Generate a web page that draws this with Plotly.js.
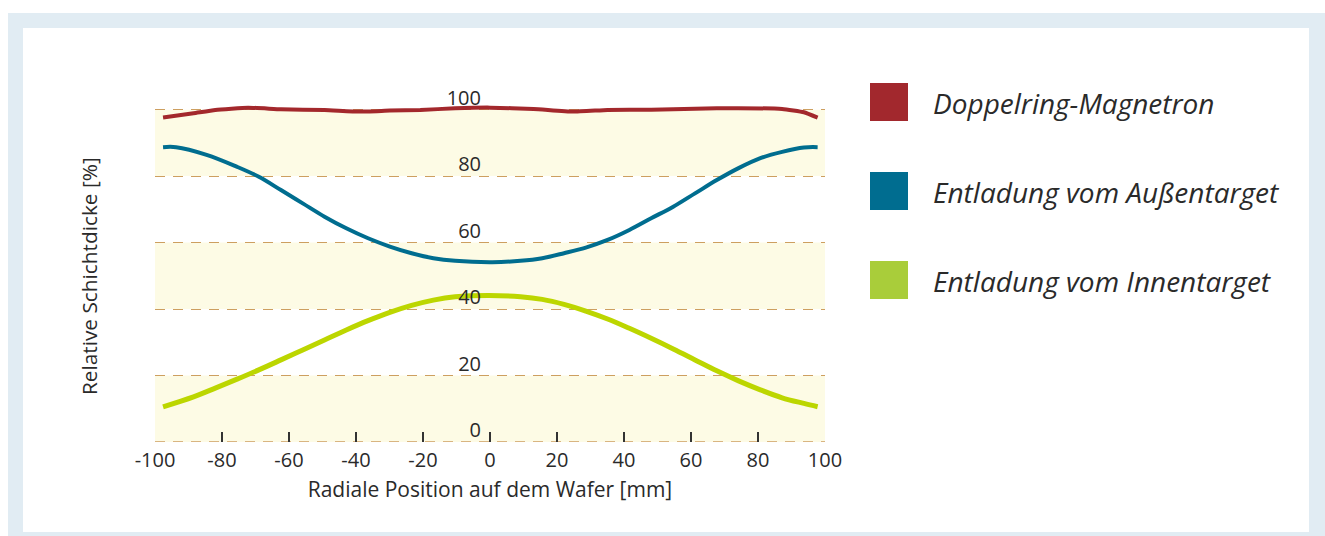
<!DOCTYPE html>
<html><head><meta charset="utf-8">
<script src="https://cdn.plot.ly/plotly-3.0.1.min.js"></script>
<style>html,body{margin:0;padding:0;background:#fff}#chart{width:1325px;height:536px}</style>
</head><body><div id="chart"></div>
<script>
// ---- data ----
const seriesNames = ['Doppelring-Magnetron', 'Entladung vom Außentarget', 'Entladung vom Innentarget'];

const redX = [-97.6, -88.5, -82.0, -72.2, -62.4, -49.4, -39.0, -29.9, -20.8, -10.4, 0.0, 13.0, 24.7, 35.1, 48.1, 67.7, 87.2, 93.7, 97.8];
const redY = [97.6, 98.9, 99.9, 100.6, 100.1, 99.9, 99.4, 99.7, 99.9, 100.4, 100.6, 100.2, 99.4, 99.9, 100.0, 100.4, 100.2, 99.2, 97.6];

const blueX = [-97.6, -93.7, -84.6, -75.5, -69.0, -62.4, -55.9, -49.4, -42.9, -36.4, -29.9, -23.4, -16.9, -10.4, 0.7, 9.1, 15.6, 22.1, 28.6, 35.1, 41.6, 48.1, 54.7, 61.2, 67.7, 74.2, 80.7, 87.2, 93.7, 97.8];
const blueY = [88.7, 88.7, 86.4, 82.8, 79.8, 75.8, 71.8, 67.8, 64.3, 61.3, 58.8, 56.8, 55.3, 54.5, 54.1, 54.5, 55.3, 56.8, 58.5, 60.8, 63.8, 67.3, 70.8, 74.8, 78.8, 82.4, 85.4, 87.3, 88.6, 88.7];

const greenX = [-97.6, -88.5, -82.0, -75.5, -69.0, -62.4, -55.9, -49.4, -42.9, -36.4, -29.9, -23.4, -16.9, -10.4, -0.3, 9.1, 15.6, 22.1, 28.6, 35.1, 41.6, 48.1, 54.7, 61.2, 67.7, 74.2, 80.7, 87.2, 93.7, 97.8];
const greenY = [10.6, 13.6, 16.2, 18.9, 21.7, 24.7, 27.7, 30.7, 33.7, 36.5, 39.0, 41.1, 42.7, 43.7, 44.1, 43.7, 42.9, 41.4, 39.4, 37.0, 34.2, 31.2, 28.0, 24.7, 21.4, 18.4, 15.7, 13.3, 11.6, 10.6];

const xTickVals = [-100, -80, -60, -40, -20, 0, 20, 40, 60, 80, 100];
const xTickText = ['-100', '-80', '-60', '-40', '-20', '0', '20', '40', '60', '80', '100'];
const yTickVals = [0, 20, 40, 60, 80, 100];
const yTickText = ['0', '20', '40', '60', '80', '100'];

const xTitle = 'Radiale Position auf dem Wafer [mm]';
const yTitle = 'Relative Schichtdicke [%]';

// ---- style ----
const lineColors = ['#a3282c', '#006d8f', '#bcd600'];
const swatchColors = ['#a2282d', '#006d90', '#a9cd3a'];
const lineWidths = [4, 4, 5];
const bandColor = '#fdfbe5';
const gridColor = '#cd9f60';
const gridDash = '10px,8px';
const textColor = '#2a2a2a';
const FONT = '"Open Sans", sans-serif';

// ---- page geometry (pixels) ----
const W = 1325, H = 536;
const L = 155, R = 825, T = 96, B = 442;
const pxX = p => (p - L) / (R - L);
const pxY = p => (B - p) / (B - T);

const traces = [
  {x: redX, y: redY},
  {x: blueX, y: blueY},
  {x: greenX, y: greenY}
].map((d, i) => ({
  type: 'scatter', mode: 'lines', x: d.x, y: d.y, name: seriesNames[i],
  line: {color: lineColors[i], width: lineWidths[i], shape: 'spline', smoothing: i === 0 ? 0.4 : 1},
  hoverinfo: 'skip'
}));

const xMin = xTickVals[0], xMax = xTickVals[xTickVals.length - 1];
const shapes = [];
// frame
shapes.push({type: 'rect', xref: 'paper', yref: 'paper', x0: pxX(8), x1: pxX(1340), y0: pxY(550), y1: pxY(13),
  fillcolor: '#e1ecf3', line: {width: 0}, layer: 'below'});
shapes.push({type: 'rect', xref: 'paper', yref: 'paper', x0: pxX(23), x1: pxX(1309), y0: pxY(532), y1: pxY(28),
  fillcolor: '#ffffff', line: {width: 0}, layer: 'below'});
// alternating bands
for (let k = 0; k + 1 < yTickVals.length; k += 2) {
  shapes.push({type: 'rect', xref: 'x', yref: 'y', x0: xMin, x1: xMax,
    y0: yTickVals[k], y1: yTickVals[k + 1], fillcolor: bandColor, line: {width: 0}, layer: 'below'});
}
// dashed base line at the lowest tick (grid line at the plot edge)
shapes.push({type: 'line', xref: 'x', yref: 'y', x0: xMin, x1: xMax, y0: yTickVals[0], y1: yTickVals[0],
  line: {color: gridColor, width: 1.5, dash: gridDash}, layer: 'below'});
// legend swatches + labels
const legTops = [83, 172, 261];
const annotations = [];
seriesNames.forEach((n, i) => {
  shapes.push({type: 'rect', xref: 'paper', yref: 'paper', x0: pxX(870), x1: pxX(908),
    y0: pxY(legTops[i] + 38), y1: pxY(legTops[i]), fillcolor: swatchColors[i], line: {width: 0}});
  annotations.push({xref: 'paper', yref: 'paper', x: pxX(931), y: pxY(legTops[i] + 20), xanchor: 'left', yanchor: 'middle',
    text: '<i>' + n + '</i>', showarrow: false, font: {size: 28, color: textColor, family: FONT}});
});
annotations.push({xref: 'paper', yref: 'paper', x: pxX(89), y: pxY(276), xanchor: 'center', yanchor: 'middle',
  text: yTitle, textangle: -90, showarrow: false, font: {size: 20.8, color: textColor, family: FONT}});

const layout = {
  width: W, height: H,
  margin: {l: L, r: W - R, t: T, b: H - B, pad: 0},
  paper_bgcolor: '#ffffff', plot_bgcolor: 'rgba(0,0,0,0)',
  showlegend: false,
  font: {family: FONT, color: textColor},
  xaxis: {range: [xMin, xMax], tickvals: xTickVals, ticktext: xTickText, ticks: 'inside', ticklen: 10,
    tickcolor: '#333333', tickwidth: 1.2, showgrid: false, zeroline: false, showline: false,
    ticklabelstandoff: 4,
    tickfont: {size: 20, color: textColor},
    title: {text: xTitle, font: {size: 21, color: textColor}, standoff: 10}},
  yaxis: {range: [0, 104.1], anchor: 'free', position: pxX(481), side: 'left',
    tickvals: yTickVals, ticktext: yTickText, ticks: '', ticklabelshift: -12,
    tickfont: {size: 20, color: textColor},
    showgrid: true, gridcolor: gridColor, griddash: gridDash, gridwidth: 1, zeroline: false, showline: false},
  shapes: shapes,
  annotations: annotations
};

Plotly.newPlot('chart', traces, layout, {displayModeBar: false, staticPlot: true});
</script>
</body></html>
